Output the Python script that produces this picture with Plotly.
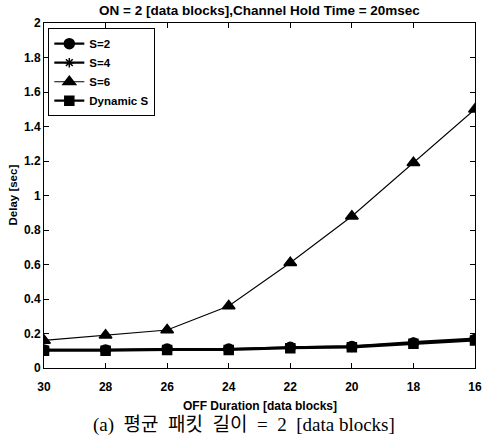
import plotly.graph_objects as go

# OFF duration in data blocks (axis runs from 30 down to 16)
off_duration = [30, 28, 26, 24, 22, 20, 18, 16]

# Mean delay [sec] for each scheme
delay_s2 = [0.105, 0.105, 0.11, 0.11, 0.12, 0.125, 0.145, 0.165]
delay_s4 = [0.105, 0.105, 0.11, 0.11, 0.12, 0.125, 0.15, 0.17]
delay_s6 = [0.16, 0.19, 0.22, 0.36, 0.61, 0.88, 1.19, 1.50]
delay_dyn = [0.10, 0.10, 0.105, 0.105, 0.115, 0.12, 0.14, 0.16]

series_names = ["S=2", "S=4", "S=6", "Dynamic S"]
y_ticks = [0, 0.2, 0.4, 0.6, 0.8, 1, 1.2, 1.4, 1.6, 1.8, 2]
x_ticks = [30, 28, 26, 24, 22, 20, 18, 16]

title_text = "ON = 2 [data blocks],Channel Hold Time = 20msec"
x_title = "OFF Duration [data blocks]"
y_title = "Delay [sec]"
caption_words = ["(a)", "평균", "패킷", "길이", "=", "2", "[data", "blocks]"]

fig = go.Figure()

styles = [
    (delay_s2, "circle", 10, 2.2),
    (delay_s4, "asterisk-open", 8, 2.2),
    (delay_s6, "triangle-up", 11, 1.1),
    (delay_dyn, "square", 9, 2.2),
]
for name, (vals, sym, size, lw) in zip(series_names, styles):
    fig.add_trace(go.Scatter(
        x=off_duration, y=vals, name=name, mode="lines+markers",
        line=dict(color="black", width=lw),
        marker=dict(symbol=sym, size=size, color="black",
                    line=dict(color="black", width=1.5)),
    ))

sans = "Liberation Sans, Arial, sans-serif"
tick_font = dict(family=sans, size=12, color="black", weight="bold")

fig.update_layout(
    width=490, height=440,
    margin=dict(l=44, r=8, t=23, b=72),
    paper_bgcolor="white", plot_bgcolor="white",
    showlegend=True,
    legend=dict(
        x=0.01, y=0.985, xanchor="left", yanchor="top",
        bordercolor="black", borderwidth=1, bgcolor="white",
        font=dict(family=sans, size=11.5, color="black", weight="bold"),
        tracegroupgap=0, itemwidth=30,
    ),
    xaxis=dict(
        range=[30, 16], tickmode="array", tickvals=x_ticks,
        showline=True, linecolor="black", linewidth=1, mirror="ticks",
        ticks="inside", ticklen=5, tickcolor="black", ticklabelstandoff=8,
        showgrid=False, zeroline=False, tickfont=tick_font,
    ),
    yaxis=dict(
        range=[0, 2], tickmode="array", tickvals=y_ticks,
        showline=True, linecolor="black", linewidth=1, mirror="ticks",
        ticks="inside", ticklen=5, tickcolor="black",
        showgrid=False, zeroline=False, tickfont=tick_font,
    ),
)

fig.add_annotation(
    text=title_text, xref="paper", yref="paper", x=0.5, y=1, yshift=3,
    xanchor="center", yanchor="bottom", showarrow=False,
    font=dict(family=sans, size=13.5, color="black", weight="bold"),
)
fig.add_annotation(
    text=x_title, xref="paper", yref="paper", x=0.5, y=0, yshift=-29,
    xanchor="center", yanchor="top", showarrow=False,
    font=dict(family=sans, size=12, color="black", weight="bold"),
)
fig.add_annotation(
    text=y_title, xref="paper", yref="paper", x=0, y=0.5, xshift=-24,
    xanchor="right", yanchor="middle", showarrow=False, textangle=-90,
    font=dict(family=sans, size=11.5, color="black", weight="bold"),
)
# Caption below the plot, with wide word spacing
fig.add_annotation(
    text="\u00a0\u00a0".join(caption_words[:6]) + "\u00a0\u00a0" + " ".join(caption_words[6:]),
    xref="paper", yref="paper", x=(247 - 44) / 438, y=0, yshift=-44,
    xanchor="center", yanchor="top", showarrow=False,
    font=dict(family="Liberation Serif, Noto Sans CJK KR, serif", size=19,
              color="black"),
)

fig.write_html("out.html")
